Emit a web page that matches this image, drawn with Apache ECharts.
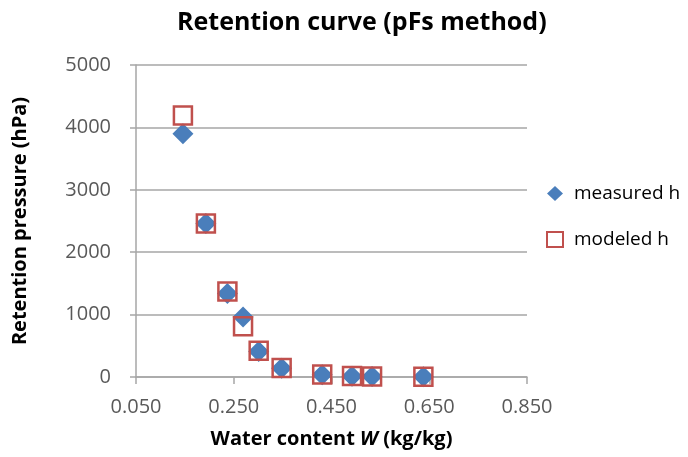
<!DOCTYPE html>
<html>
<head>
<meta charset="utf-8">
<script src="https://cdn.jsdelivr.net/npm/echarts@6/dist/echarts.min.js"></script>
<style>
  html, body { margin: 0; padding: 0; background: #fff; }
  #chart { width: 688px; height: 457px; }
</style>
</head>
<body>
<div id="chart"></div>
<script>
// water content (kg/kg) and retention pressure (hPa)
const waterContent = [0.146, 0.193, 0.237, 0.269, 0.301, 0.348, 0.431, 0.492, 0.533, 0.638];
const measuredH = [3900, 2460, 1340, 960, 410, 140, 35, 12, 8, 3];
const modeledH = [4190, 2460, 1370, 815, 420, 145, 40, 15, 10, 3];
const xTicks = ['0.050', '0.250', '0.450', '0.650', '0.850'];

const chart = echarts.init(document.getElementById('chart'));
const font = 'Open Sans';

const option = {
  animation: false,
  textStyle: { fontFamily: font },
  title: {
    text: 'Retention curve (pFs method)',
    left: 172,
    top: 5,
    textStyle: { fontFamily: font, fontSize: 25, fontWeight: 'bold', color: '#000' }
  },
  legend: {
    orient: 'vertical',
    left: 541,
    top: 179,
    itemGap: 27,
    itemWidth: 16,
    itemHeight: 15,
    textStyle: { fontFamily: font, fontSize: 19, color: '#000', padding: [0, 0, 0, 6] },
    data: [
      { name: 'measured h', icon: 'diamond' },
      { name: 'modeled h', icon: 'rect' }
    ]
  },
  grid: { left: 136, right: 161, top: 65, bottom: 80 },
  xAxis: {
    type: 'value',
    min: 0.05,
    max: 0.85,
    interval: 0.2,
    name: '{b|Water content }{i|W}{b| (kg/kg)}',
    nameLocation: 'middle',
    nameGap: 52,
    nameTextStyle: {
      rich: {
        b: { fontFamily: font, fontSize: 20, fontWeight: 'bold', color: '#000' },
        i: { fontFamily: font, fontSize: 20, fontWeight: 'bold', fontStyle: 'italic', color: '#000' }
      }
    },
    axisLine: { show: true, onZero: false, lineStyle: { color: '#a6a6a6', width: 1.5 } },
    axisTick: { show: true, length: 7, lineStyle: { color: '#a6a6a6', width: 1.5 } },
    splitLine: { show: false },
    axisLabel: {
      margin: 20,
      fontFamily: font,
      fontSize: 20,
      color: '#595959',
      formatter: (v) => {
        const i = Math.round((v - 0.05) / 0.2);
        return xTicks[i] !== undefined ? xTicks[i] : '';
      }
    }
  },
  yAxis: {
    type: 'value',
    min: 0,
    max: 5000,
    interval: 1000,
    name: 'Retention pressure (hPa)',
    nameLocation: 'middle',
    nameGap: 106,
    nameTextStyle: { fontFamily: font, fontSize: 20, fontWeight: 'bold', color: '#000' },
    axisLine: { show: true, lineStyle: { color: '#a6a6a6', width: 1.5 } },
    axisTick: { show: true, length: 6, lineStyle: { color: '#a6a6a6', width: 1.5 } },
    splitLine: { show: true, lineStyle: { color: '#a6a6a6', width: 1.5 } },
    axisLabel: {
      margin: 25,
      fontFamily: font,
      fontSize: 20,
      color: '#595959',
      formatter: (v) => String(v)
    }
  },
  series: [
    {
      name: 'measured h',
      type: 'scatter',
      symbol: 'diamond',
      symbolSize: 21,
      itemStyle: { color: '#4a7ebb', opacity: 1 },
      data: waterContent.map((x, i) => [x, measuredH[i]])
    },
    {
      name: 'modeled h',
      type: 'scatter',
      symbol: 'rect',
      symbolSize: 18,
      itemStyle: { color: 'rgba(255,255,255,0)', borderColor: '#c0504d', borderWidth: 2.5, opacity: 1 },
      data: waterContent.map((x, i) => [x, modeledH[i]])
    }
  ]
};

chart.setOption(option);
window.addEventListener('resize', () => chart.resize());
</script>
</body>
</html>
